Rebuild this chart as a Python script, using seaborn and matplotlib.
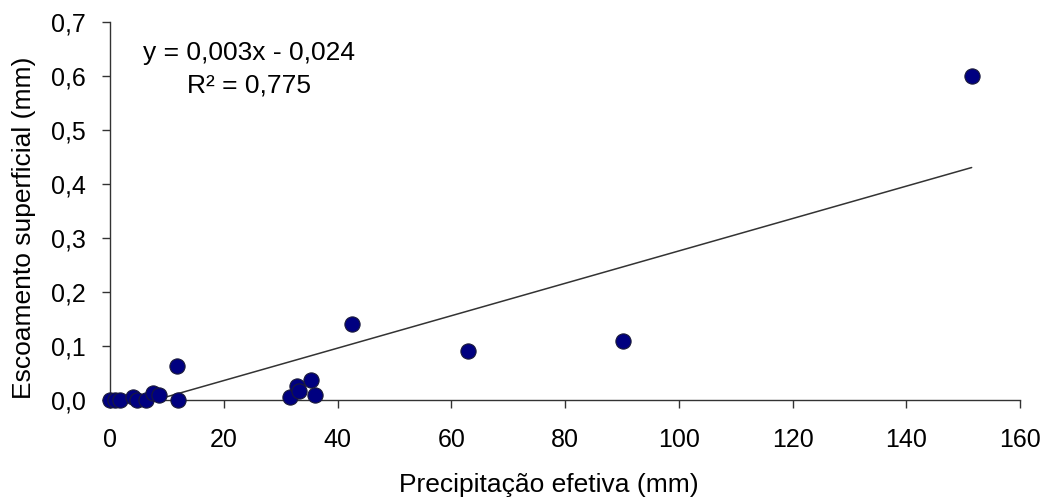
import numpy as np
import pandas as pd
import matplotlib
matplotlib.use("Agg")
import matplotlib.pyplot as plt
import seaborn as sns
from matplotlib.ticker import FuncFormatter

# values
precip = [0.0, 0.9, 1.8, 4.0, 4.7, 6.4, 7.6, 8.6, 11.8, 12.0,
          31.6, 32.8, 33.3, 35.3, 36.1, 42.5, 63.0, 90.2, 151.5]
escoam = [0.0, 0.0, 0.0, 0.005, 0.0, 0.0, 0.013, 0.009, 0.063, 0.0,
          0.006, 0.026, 0.017, 0.037, 0.009, 0.14, 0.09, 0.11, 0.60]
slope = 0.003
intercept = -0.024
r2 = 0.775
x_ticks = [0, 20, 40, 60, 80, 100, 120, 140, 160]
y_ticks = [0.0, 0.1, 0.2, 0.3, 0.4, 0.5, 0.6, 0.7]

df = pd.DataFrame({"precip": precip, "escoam": escoam})
trend = pd.DataFrame({"x": [min(precip), max(precip)]})
trend["y"] = slope * trend["x"] + intercept

sns.set_style("white")
plt.rcParams["font.family"] = ["Liberation Sans", "DejaVu Sans"]
plt.rcParams["text.color"] = "black"
plt.rcParams["axes.labelcolor"] = "black"
plt.rcParams["xtick.color"] = "black"
plt.rcParams["ytick.color"] = "black"

fig = plt.figure(figsize=(10.48, 5.0), dpi=100)
ax = fig.add_axes([110 / 1048, 100 / 500, 910 / 1048, 378 / 500])

sns.lineplot(data=trend, x="x", y="y", ax=ax, color="#333333", linewidth=1.1)
sns.scatterplot(data=df, x="precip", y="escoam", ax=ax, s=120, color="#000080",
                edgecolor="#1a1a3a", linewidth=0.8, clip_on=False, zorder=5)

ax.set_xlim(0, 160)
ax.set_ylim(0, 0.7)
ax.set_xticks(x_ticks)
ax.set_yticks(y_ticks)
ax.yaxis.set_major_formatter(FuncFormatter(lambda v, p: f"{v:.1f}".replace(".", ",")))
ax.tick_params(axis="both", direction="out", length=5.5, width=1, color="#333333",
               labelcolor="black", labelsize=18, bottom=True, left=True)
ax.tick_params(axis="x", pad=15)
ax.tick_params(axis="y", pad=12)
for side in ["top", "right"]:
    ax.spines[side].set_visible(False)
for side in ["left", "bottom"]:
    ax.spines[side].set_color("#333333")
    ax.spines[side].set_linewidth(1)

ax.set_xlabel("Precipitação efetiva (mm)", fontsize=19, va="center")
ax.xaxis.set_label_coords(0.482, -0.225)
ax.set_ylabel("Escoamento superficial (mm)", fontsize=19, va="center")
ax.yaxis.set_label_coords(-0.0945, 0.455)

ax.text(0.153, 0.918, f"y = {slope:.3f}x - {abs(intercept):.3f}".replace(".", ","),
        transform=ax.transAxes, ha="center", va="center", fontsize=19)
ax.text(0.153, 0.831, f"R² = {r2:.3f}".replace(".", ","),
        transform=ax.transAxes, ha="center", va="center", fontsize=19)

fig.savefig("out.png", dpi=100)
